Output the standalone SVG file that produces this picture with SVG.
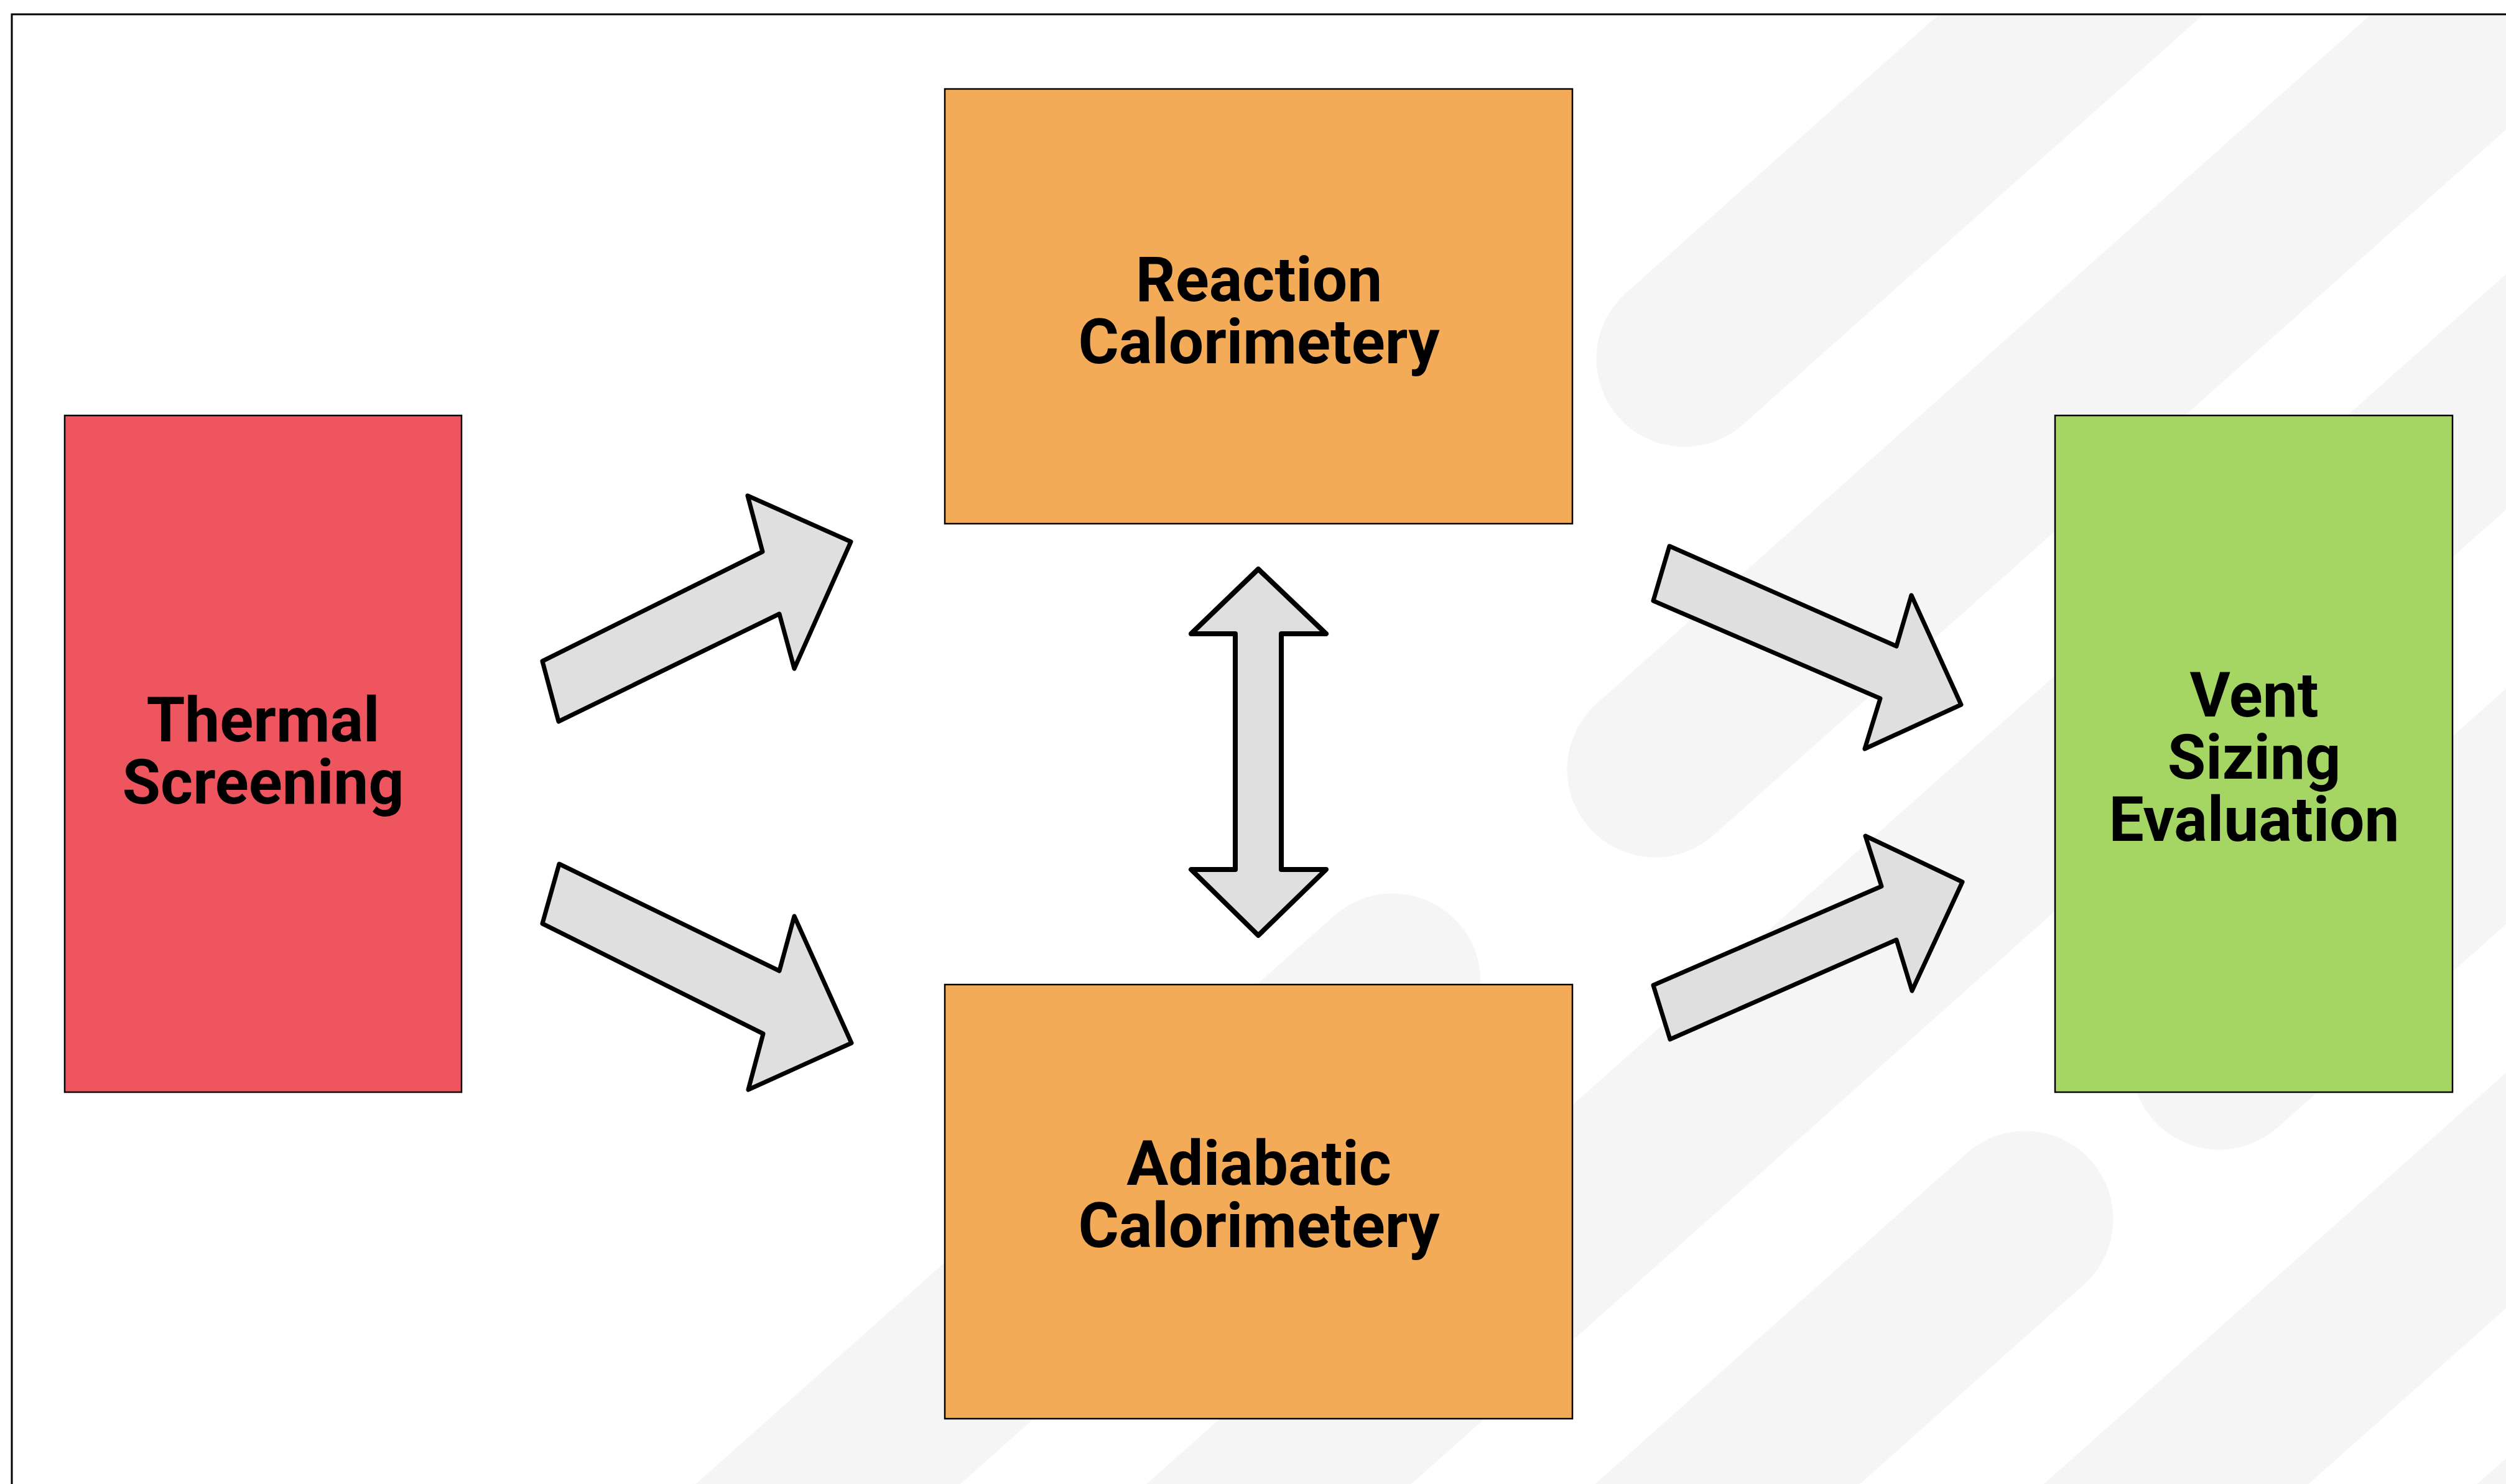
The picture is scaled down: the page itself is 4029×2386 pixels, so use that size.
<svg xmlns="http://www.w3.org/2000/svg" width="4029" height="2386" viewBox="0 0 4029 2386">
  <defs>
    <style>
      .band { stroke: #F5F5F5; stroke-width: 283; stroke-linecap: round; fill: none; }
      .box { stroke: #000000; stroke-width: 2.5; }
      .lbl { font-family: Roboto, "Liberation Sans", Arial, sans-serif; font-weight: 700; font-size: 100px; fill: #000000; text-anchor: middle; }
      .arrow { fill: #DFDFDF; stroke: #000000; stroke-width: 7; stroke-linejoin: round; }
      .arrow2 { fill: #DFDFDF; stroke: #000000; stroke-width: 8; stroke-linejoin: round; }
    </style>
    <clipPath id="frameClip">
      <rect x="19" y="23" width="4020" height="2370"/>
    </clipPath>
  </defs>

  <rect x="0" y="0" width="4029" height="2386" fill="#FFFFFF"/>

  <g id="background" clip-path="url(#frameClip)">
    <line class="band" x1="2708" y1="577" x2="3829" y2="-421"/>
    <line class="band" x1="2661" y1="1237" x2="4155" y2="-93"/>
    <line class="band" x1="2239" y1="1578" x2="745" y2="2908"/>
    <line class="band" x1="1500" y1="2881" x2="4200" y2="478"/>
    <line class="band" x1="3256" y1="1960" x2="2135" y2="2958"/>
    <line class="band" x1="3568" y1="1707" x2="4315" y2="1042"/>
    <line class="band" x1="3000" y1="2830" x2="4400" y2="1584"/>
    <line class="band" x1="3600" y1="2916" x2="4400" y2="2204"/>
  </g>

  <path id="frame" d="M19,2400 V23 H4040" fill="none" stroke="#000000" stroke-width="3"/>

  <g id="connectors">
    <polygon id="arrow-thermal-reaction" class="arrow" points="872,1063 1226,887 1202,797 1368,871 1277,1075 1253,987 898,1160"/>
    <polygon id="arrow-thermal-adiabatic" class="arrow" points="899,1389 1253,1561 1277,1473 1369,1677 1203,1752 1227,1662 872,1485"/>
    <polygon id="arrow-reaction-adiabatic" class="arrow2" points="2023,915 2132,1019 2060,1019 2060,1398 2132,1398 2023,1504 1915,1398 1986,1398 1986,1019 1915,1019"/>
    <polygon id="arrow-reaction-vent" class="arrow" points="2684,878 3049,1039 3073,957 3153,1133 2998,1204 3023,1123 2658,966"/>
    <polygon id="arrow-adiabatic-vent" class="arrow" points="2658,1584 3025,1425 2999,1344 3155,1418 3074,1593 3049,1511 2685,1671"/>
  </g>

  <g id="node-thermal-screening">
    <rect class="box" x="104" y="668" width="638" height="1088" fill="#EF555E"/>
    <text class="lbl" x="423" y="1192">Thermal</text>
    <text class="lbl" x="423" y="1292">Screening</text>
  </g>

  <g id="node-reaction-calorimetery">
    <rect class="box" x="1519" y="143" width="1009" height="699" fill="#F3AB58"/>
    <text class="lbl" x="2024" y="484">Reaction</text>
    <text class="lbl" x="2024" y="584">Calorimetery</text>
  </g>

  <g id="node-adiabatic-calorimetery">
    <rect class="box" x="1519" y="1583" width="1009" height="698" fill="#F3AB58"/>
    <text class="lbl" x="2024" y="1905">Adiabatic</text>
    <text class="lbl" x="2024" y="2005">Calorimetery</text>
  </g>

  <g id="node-vent-sizing-evaluation">
    <rect class="box" x="3304" y="668" width="639" height="1088" fill="#A5D663"/>
    <text class="lbl" x="3624" y="1152">Vent</text>
    <text class="lbl" x="3624" y="1252">Sizing</text>
    <text class="lbl" x="3624" y="1352">Evaluation</text>
  </g>
</svg>
